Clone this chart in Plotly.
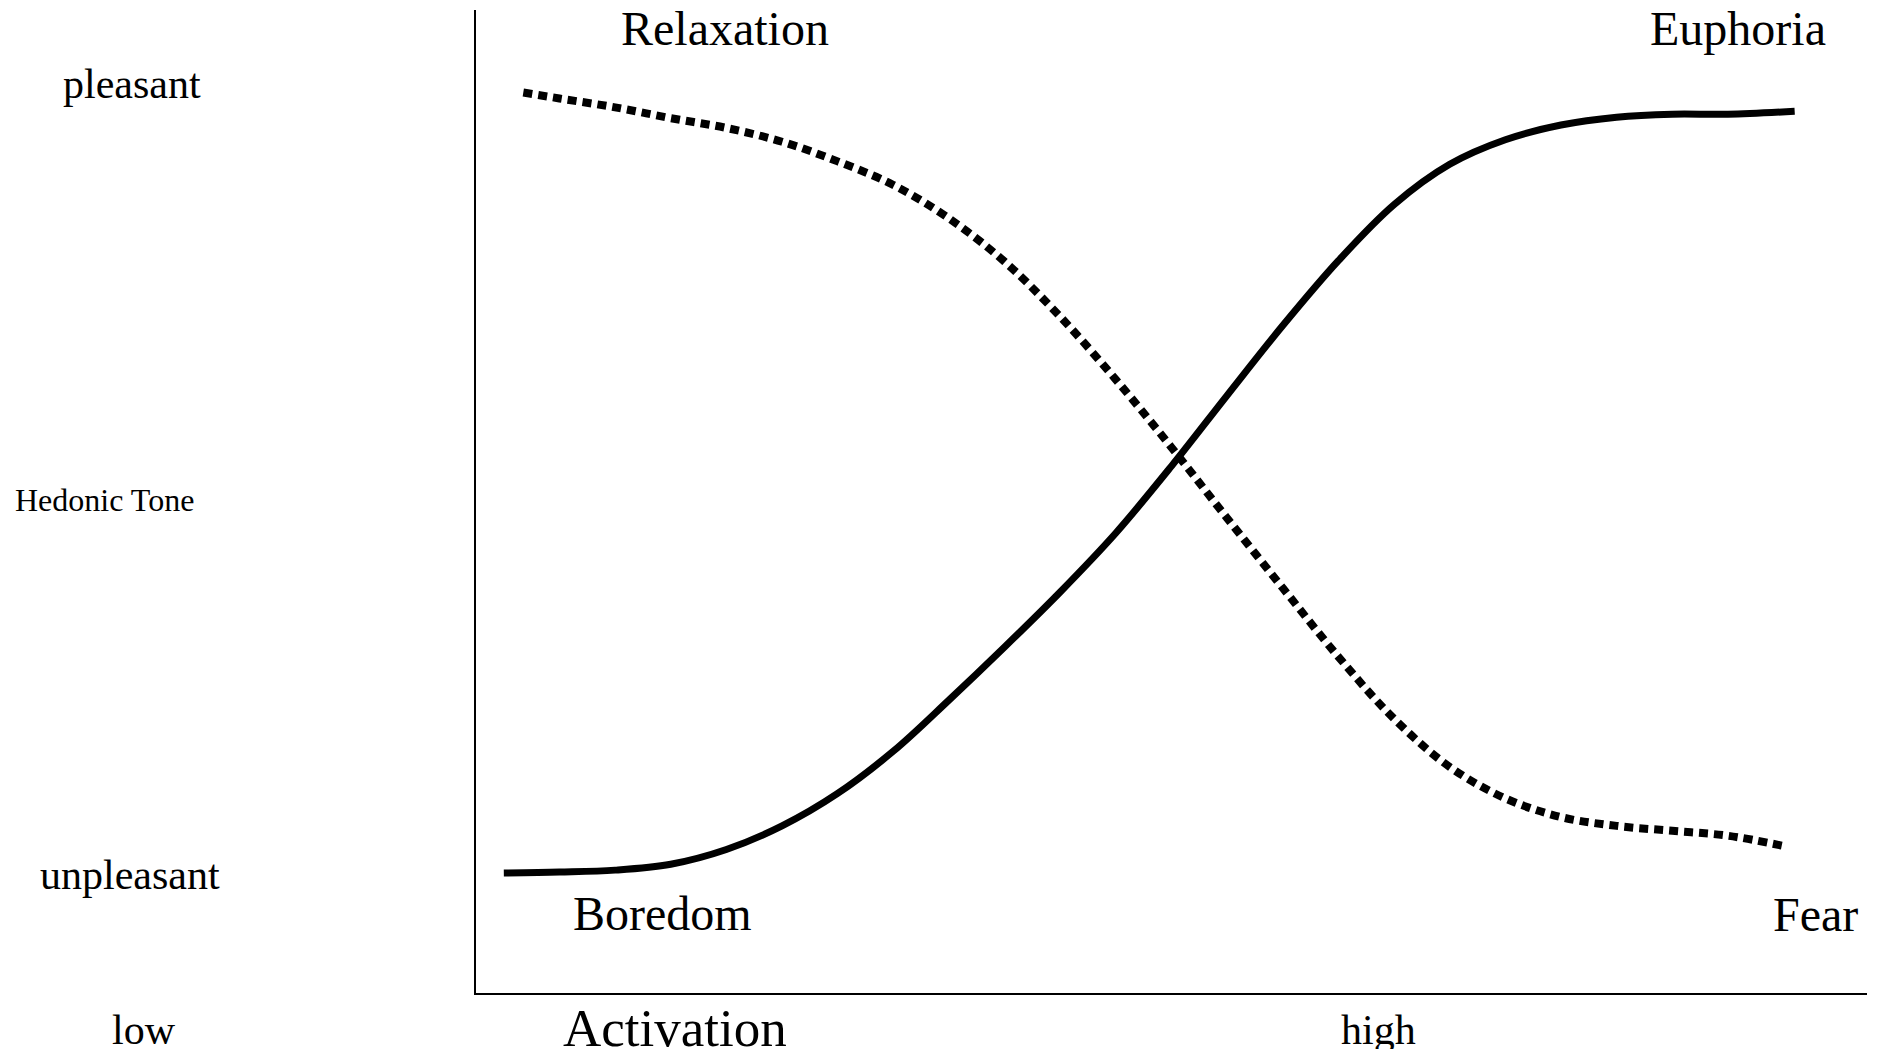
import plotly.graph_objects as go

# Activation (0-100) vs hedonic tone (0-100)
activation_solid = [2, 6, 10, 14, 18, 22, 26, 30, 34, 38, 42, 46, 50, 54, 58, 62, 66,
                    70, 74, 78, 82, 86, 90, 94.8]
tone_solid = [12.2, 12.3, 12.5, 13.1, 14.6, 17.0, 20.3, 24.6, 29.8, 35.2, 40.8, 46.8,
              53.6, 60.8, 67.9, 74.5, 80.2, 84.3, 86.8, 88.3, 89.1, 89.4, 89.4, 89.7]

activation_dotted = [3.4, 6, 10, 14, 18, 22, 26, 30, 34, 38, 42, 46, 50, 54, 58, 62, 66,
                     70, 74, 78, 82, 86, 90, 94.2]
tone_dotted = [91.6, 91.0, 90.1, 89.0, 88.0, 86.6, 84.6, 82.2, 78.8, 74.4, 68.8, 62.4,
               55.5, 48.3, 41.2, 34.2, 27.9, 23.0, 19.8, 17.9, 17.0, 16.5, 16.0, 14.9]

state_labels = ["Relaxation", "Euphoria", "Boredom", "Fear"]
tone_labels = ["pleasant", "Hedonic Tone", "unpleasant"]
activation_labels = ["low", "Activation", "high"]

FONT = "Liberation Serif"

fig = go.Figure()
fig.add_trace(go.Scatter(x=activation_solid, y=tone_solid, mode="lines",
                         line=dict(color="black", width=7, shape="spline"),
                         showlegend=False, hoverinfo="skip"))
fig.add_trace(go.Scatter(x=activation_dotted, y=tone_dotted, mode="lines",
                         line=dict(color="black", width=8, dash="9px,6px", shape="spline"),
                         showlegend=False, hoverinfo="skip"))

def add_label(txt, x, y, size):
    fig.add_annotation(x=x / 100, y=y / 100, text=txt, showarrow=False,
                       xref="paper", yref="paper", xanchor="center", yanchor="middle",
                       font=dict(family=FONT, size=size, color="black"))

state_pos = [(17.9, 98.1), (90.7, 98.1), (13.4, 8.1), (96.3, 8.0)]
for txt, (x, y) in zip(state_labels, state_pos):
    add_label(txt, x, y, 48)

tone_pos = [(-24.7, 92.5, 42), (-26.7, 50.2, 32), (-24.9, 12.0, 42)]
for txt, (x, y, s) in zip(tone_labels, tone_pos):
    add_label(txt, x, y, s)

act_pos = [(-23.9, -3.8, 42), (14.3, -3.6, 53), (64.9, -3.8, 42)]
for txt, (x, y, s) in zip(activation_labels, act_pos):
    add_label(txt, x, y, s)

fig.update_xaxes(range=[0, 100], showline=True, linecolor="black", linewidth=1.5,
                 showgrid=False, zeroline=False, showticklabels=False, ticks="")
fig.update_yaxes(range=[0, 100], showline=True, linecolor="black", linewidth=1.5,
                 showgrid=False, zeroline=False, showticklabels=False, ticks="")

fig.update_layout(width=1867, height=1041, plot_bgcolor="white", paper_bgcolor="white",
                  margin=dict(l=468, r=8, t=2, b=56), showlegend=False)

fig.write_html("out.html")
